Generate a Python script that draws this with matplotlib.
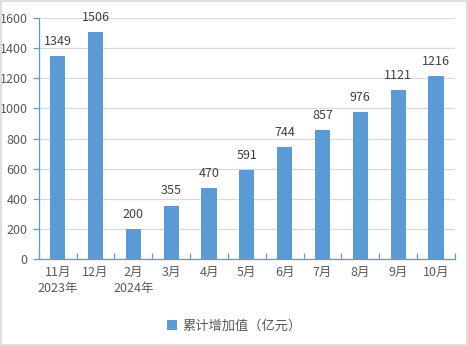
import matplotlib
matplotlib.use("Agg")
import matplotlib.pyplot as plt
from matplotlib.patches import Rectangle

plt.rcParams["font.family"] = ["Noto Sans CJK SC", "DejaVu Sans"]

months = ["11月\n2023年", "12月", "2月\n2024年", "3月", "4月", "5月",
          "6月", "7月", "8月", "9月", "10月"]
values = [1349, 1506, 200, 355, 470, 591, 744, 857, 976, 1121, 1216]
series_name = "累计增加值（亿元）"

bar_color = "#5B9BD5"
text_color = "#595959"

fig = plt.figure(figsize=(4.68, 3.46), dpi=100)
ax = fig.add_axes([0.083, 0.2514, 0.889, 0.6966])

x = list(range(len(values)))
bars = ax.bar(x, values, width=0.4, color=bar_color, label=series_name, zorder=3)
for xi, v in zip(x, values):
    ax.text(xi, v + 55, str(v), ha="center", va="bottom", fontsize=9, color="#404040")

ax.set_xlim(-0.5, len(values) - 0.5)
ax.set_ylim(0, 1600)
ax.set_yticks(range(0, 1601, 200))
ax.yaxis.grid(True, color="#D9D9D9", linewidth=0.9, zorder=0)

ax.set_xticks(x)
ax.set_xticklabels(months, linespacing=1.35)
ax.set_xticks([i + 0.5 for i in range(-1, len(values))], minor=True)
ax.tick_params(axis="x", which="major", length=0, pad=5, labelsize=9, labelcolor=text_color)
ax.tick_params(axis="x", which="minor", direction="in", length=4, color=bar_color, width=0.9)
ax.tick_params(axis="y", length=4, color=bar_color, width=0.9, labelsize=9,
               labelcolor=text_color, pad=4)

for side in ("top", "right"):
    ax.spines[side].set_visible(False)
for side in ("left", "bottom"):
    ax.spines[side].set_color(bar_color)
    ax.spines[side].set_linewidth(0.9)

leg = fig.legend(handles=[bars], labels=[series_name], loc="center",
                 bbox_to_anchor=(0.5, 0.058), frameon=False, fontsize=9.5,
                 handlelength=0.75, handleheight=0.75, handletextpad=0.4)
for t in leg.get_texts():
    t.set_color(text_color)

# thin light border around the whole figure
fig.patches.append(Rectangle((0.002, 0.003), 0.995, 0.994, transform=fig.transFigure,
                             fill=False, edgecolor="#D9D9D9", linewidth=1.2))

fig.savefig("out.png", dpi=100)
